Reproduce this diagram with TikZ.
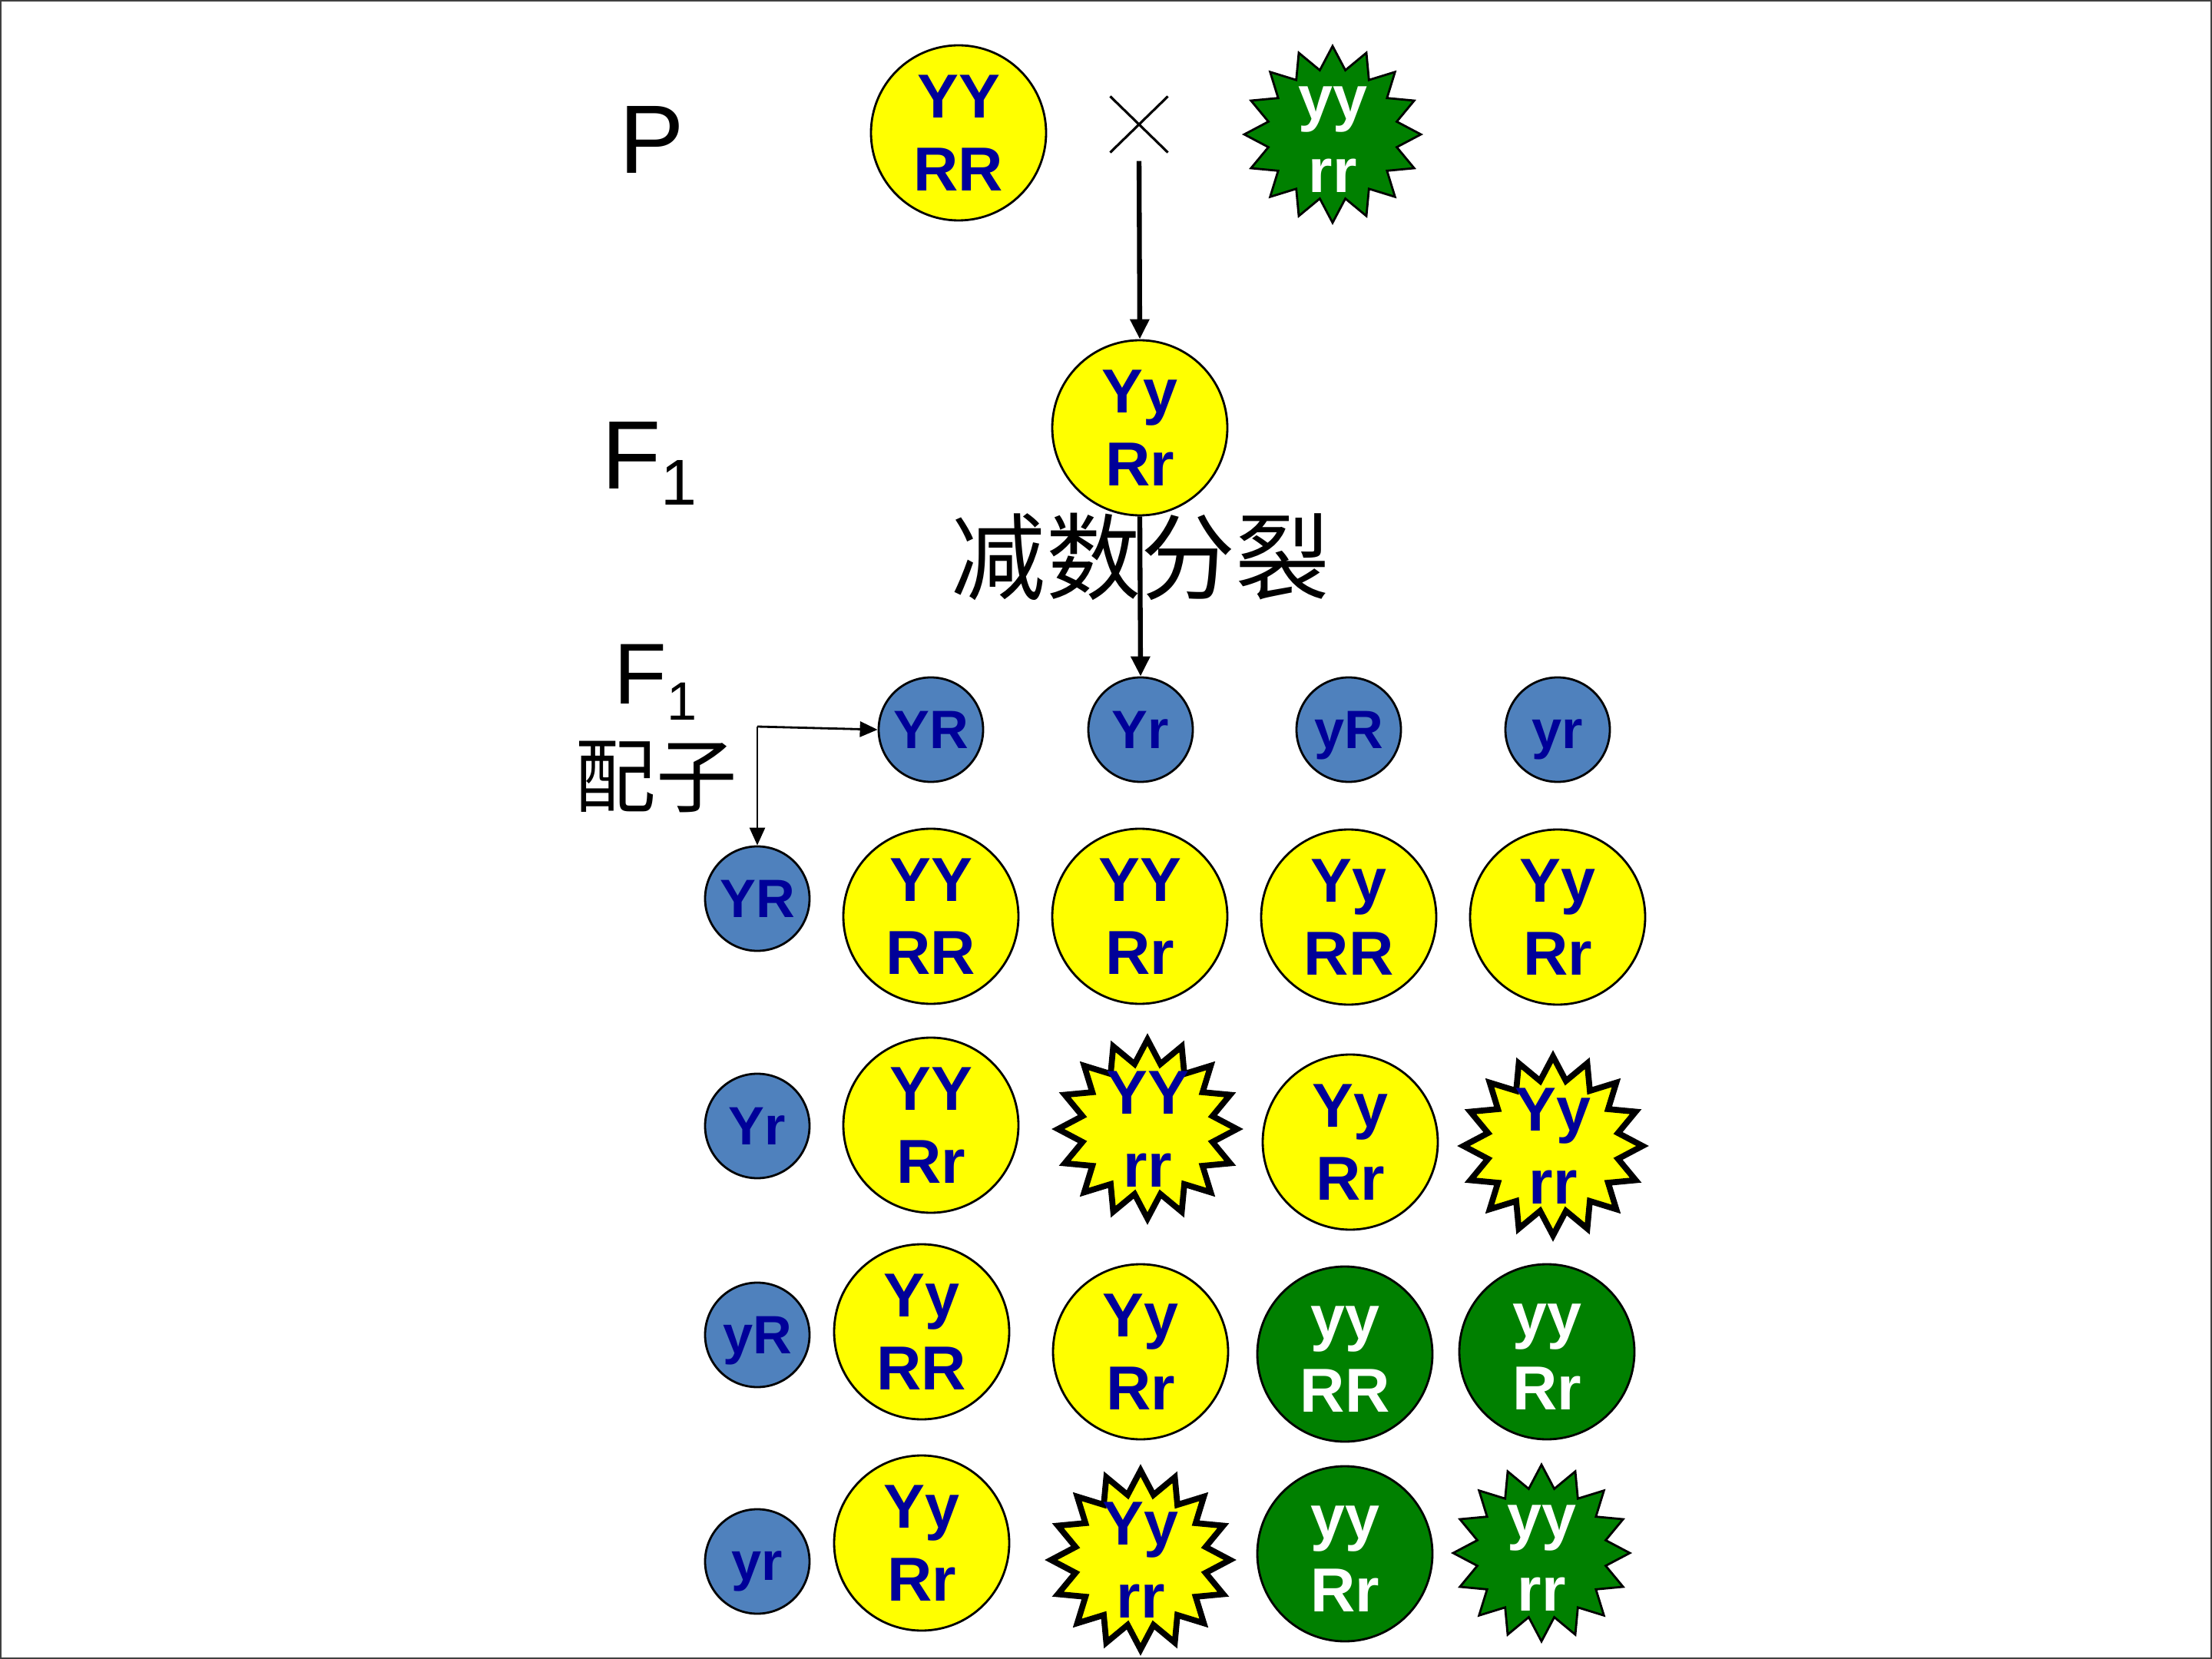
\documentclass[tikz,border=0pt]{standalone}
\usepackage{fontspec}
\setmainfont{Liberation Sans}
\newfontfamily\cjk{Noto Sans CJK SC}
\usetikzlibrary{arrows.meta, positioning, shapes.geometric, shapes.misc}
\definecolor{peayellow}{RGB}{255,255,0}
\definecolor{peagreen}{RGB}{0,128,0}
\definecolor{genenavy}{RGB}{0,0,153}
\definecolor{gameteblue}{RGB}{79,129,189}

\begin{document}
\begin{tikzpicture}[
    geno/.style={font=\fontsize{23pt}{27pt}\selectfont\bfseries, text=genenavy, align=center, inner sep=0pt},
    yround/.style={geno, ellipse, draw, line width=0.8pt, fill=peayellow, minimum width=2.28cm, minimum height=2.28cm},
    ground/.style={yround, fill=peagreen, text=white},
    ystar/.style={geno, star, star points=16, star point ratio=1.35, draw, line width=2.2pt, fill=peayellow, minimum size=2.33cm, inner sep=-2mm},
    gstar/.style={ystar, line width=0.8pt, fill=peagreen, text=white, minimum size=2.30cm},
    gamete/.style={circle, draw, line width=0.8pt, fill=gameteblue, text=genenavy, font=\fontsize{20pt}{24pt}\selectfont\bfseries, minimum size=1.36cm, inner sep=0pt, text depth=0pt, execute at begin node=\vphantom{Y}},
    flow/.style={-{Triangle[length=0.26cm, width=0.24cm]}, line width=1.8pt},
    pointer/.style={-{Triangle[length=0.23cm, width=0.2cm]}, line width=0.8pt},
    gen/.style={font=\fontsize{36pt}{40pt}\selectfont, inner sep=0pt},
]
    \useasboundingbox (0,0) rectangle (28.8,-21.6);
    \draw[darkgray, line width=0.6pt] (0.01,-0.01) rectangle (28.79,-21.59);

    % generation labels
    \node[gen, anchor=base] (lblP) at (8.49,-2.26) {P};
    \node[gen, anchor=base west] (lblF) at (7.83,-6.37) {F\raisebox{-0.21cm}{\fontsize{24pt}{24pt}\selectfont 1}};
    \node[gen, anchor=base west, font=\fontsize{32pt}{36pt}\selectfont] (lblG) at (7.99,-9.17) {F\raisebox{-0.21cm}{\fontsize{20pt}{20pt}\selectfont 1}};
    \node[font=\cjk\fontsize{30pt}{34pt}\selectfont, inner sep=0pt] (peizi) at (8.54,-10.11) {配子};

    % parents and F1
    \node[yround] (pa) at (12.48,-1.73) {YY\\RR};
    \node[gstar] (pb) at (17.35,-1.75) {\vphantom{Y}yy\\rr};
    \node[cross out, draw, line width=0.9pt, minimum width=0.72cm, minimum height=0.70cm, inner sep=0pt] (cross) at (14.83,-1.62) {};
    \node[yround] (f1) at (14.84,-5.57) {Yy\\Rr};
    \node[font=\cjk\fontsize{35pt}{40pt}\selectfont, inner sep=0pt] (meiosis) at (14.85,-7.25) {减数分裂};

    % gametes along the top and the left
    \foreach \nm/\px/\txt in {gt1/12.12/YR, gt2/14.85/Yr, gt3/17.56/yR, gt4/20.28/yr}
        \node[gamete] (\nm) at (\px,-9.50) {\txt};
    \foreach \nm/\py/\txt in {gl1/-11.70/YR, gl2/-14.66/Yr, gl3/-17.38/yR, gl4/-20.33/yr}
        \node[gamete] (\nm) at (9.86,\py) {\txt};

    % offspring
    \foreach \nm/\px/\py/\kind/\txt in {
        c11/12.12/-11.93/yround/{YY\\RR}, c12/14.84/-11.93/yround/{YY\\Rr},
        c13/17.56/-11.94/yround/{Yy\\RR}, c14/20.28/-11.94/yround/{Yy\\Rr},
        c21/12.12/-14.65/yround/{YY\\Rr}, c22/14.94/-14.70/ystar/{YY\\rr},
        c23/17.58/-14.87/yround/{Yy\\Rr}, c24/20.22/-14.92/ystar/{Yy\\rr},
        c31/12.00/-17.34/yround/{Yy\\RR}, c32/14.85/-17.60/yround/{Yy\\Rr},
        c33/17.51/-17.63/ground/{\vphantom{Y}yy\\RR}, c34/20.14/-17.60/ground/{\vphantom{Y}yy\\Rr},
        c41/12.00/-20.09/yround/{Yy\\Rr}, c42/14.85/-20.31/ystar/{Yy\\rr},
        c43/17.51/-20.23/ground/{\vphantom{Y}yy\\Rr}, c44/20.07/-20.22/gstar/{\vphantom{Y}yy\\rr}}
        \node[\kind] (\nm) at (\px,\py) {\txt};

    % arrows
    \draw[flow, shorten <=0.11cm] (cross.south) -- (f1.north);
    \draw[flow] (f1.south) -- (gt2.north);
    \coordinate (bend) at (9.86,-9.46);
    \draw[pointer] (bend) -- (gt1.west);
    \draw[pointer] (bend) -- (gl1.north);
\end{tikzpicture}
\end{document}
